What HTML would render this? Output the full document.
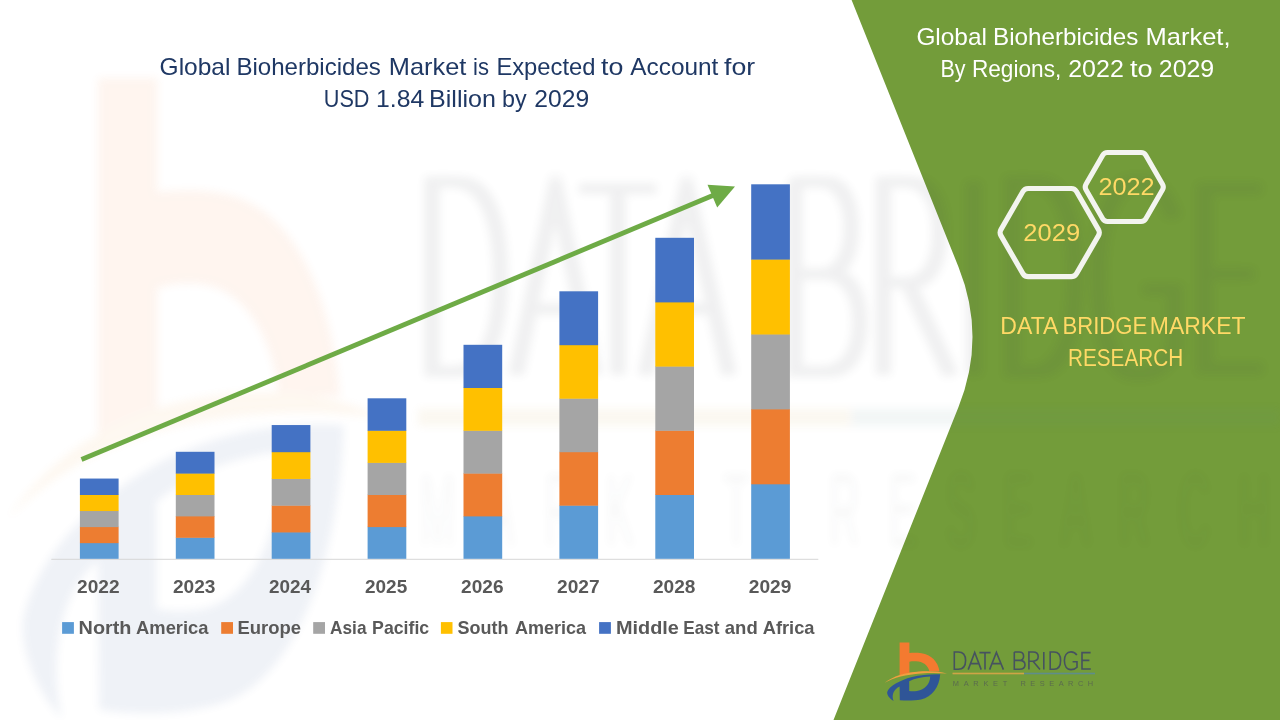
<!DOCTYPE html>
<html>
<head>
<meta charset="utf-8">
<title>Global Bioherbicides Market</title>
<style>
html,body{margin:0;padding:0;background:#ffffff;}
body{width:1280px;height:720px;overflow:hidden;position:relative;font-family:"Liberation Sans",sans-serif;}
svg{will-change:transform;position:absolute;left:0;top:0;display:block;}
text{font-family:"Liberation Sans",sans-serif;}
</style>
</head>
<body>
<svg width="1280" height="720" viewBox="0 0 1280 720">
<defs>
  <!-- logo drawn in native pixel coordinates of the small logo (bottom right) -->
  <g id="logo-mark">
    <!-- orange b -->
    <path fill="#F47A30" d="M899.6,642.5 H909.4 V652.9 C913,652.7 917.5,652.6 921.5,653.2 C931,654.6 938,661.2 939.6,671.6 C932,671.4 926,671.6 920,672.2 C912,673 905,674 899.6,675.3 Z M909.4,661.7 V672.8 C915,671.9 922,671.3 929.4,671.2 C928,665.3 923,661.6 916,661.3 C913.5,661.2 911,661.4 909.4,661.7 Z"/>
    <!-- thin orange swoosh -->
    <path fill="#F0A040" d="M884.6,682.8 C893,676 905,672.5 920,671.4 C930,670.8 940,671.6 947,673.6 C938,672.9 930,672.9 921,673.5 C906,674.6 894,677.4 884.6,682.8 Z"/>
    <!-- blue D swoosh -->
    <path fill="#2F5597" fill-rule="evenodd" d="M940.2,674.2 C930,673.9 921,674.8 912,677 C899.5,680.4 889.4,686 887.2,692 C886.8,695 889.5,698.5 893.6,701 C892,697 892.5,692.6 895.5,689.4 C896.6,688.2 898,687.3 899.6,686.6 L899.8,700.2 C907,700.8 915,700.6 921,699.4 C932,697 939.4,687 940.2,674.2 Z M909.2,681.2 C915,678.6 922,677 930.2,676.6 C930,684 925,690 917,691 C914,691.3 911,691.2 909.2,691 Z"/>
  </g>
  <g id="logo-letters" fill="none" stroke-linecap="butt" stroke-linejoin="miter">
      <path d="M954.3,652 V669.3 H958.2 C963.6,669.3 965.6,665.4 965.6,660.6 C965.6,655.8 963.6,652 958.2,652 Z"/>
      <path d="M968.2,669.6 L974.7,652.4 L981.2,669.6 M970.6,663.6 H978.8"/>
      <path d="M979.4,652.6 H990.6 M985,652.6 V669.6"/>
      <path d="M989.6,669.6 L996.4,652.4 L1003.4,669.6 M992,663.6 H1000.8"/>
      <path d="M1014.3,652 V669.3 H1019.4 C1023.4,669.3 1025,667.2 1025,664.8 C1025,662.2 1023.2,660.4 1019.4,660.4 H1014.3 M1019,660.4 C1022,660.4 1023.6,658.6 1023.6,656.2 C1023.6,653.8 1022,652 1019,652 H1014.3"/>
      <path d="M1028.9,669.6 V652 H1033 C1036.6,652 1038.2,654 1038.2,656.6 C1038.2,659.2 1036.6,661.2 1033,661.2 H1028.9 M1033,661.2 L1040,669.6"/>
      <path d="M1043.8,652 V669.6"/>
      <path d="M1050.2,652 V669.3 H1054 C1058.8,669.3 1060.6,665.4 1060.6,660.6 C1060.6,655.8 1058.8,652 1054,652 Z"/>
      <path d="M1076.8,655.2 C1075.6,653.2 1073.6,651.9 1071,651.9 C1066.6,651.9 1064.4,655.8 1064.4,660.6 C1064.4,665.6 1066.6,669.6 1071,669.6 C1073.4,669.6 1075.6,668.8 1077,667.2 V661.8 H1072.6"/>
      <path d="M1090.6,652.6 H1082 V669 H1090.8 M1082,660.4 H1089.4"/>
    </g>
  <g id="logo-text">
    <!-- underline -->
    <rect x="952.5" y="672.7" width="71.5" height="1.6" fill="#CFA446"/>
    <rect x="1024" y="672.7" width="71" height="1.6" fill="#5F8D8B"/>
  </g>
  <!-- MARKET RESEARCH tiny spaced caps -->
  <g id="logo-tiny">
    <text x="952.8" y="686" textLength="54.4" lengthAdjust="spacing">MARKET</text>
    <text x="1020.4" y="686" textLength="72.8" lengthAdjust="spacing">RESEARCH</text>
  </g>
</defs>

<!-- green panel -->
<path id="panel" fill="#739C3A" d="M851.6,0 L958.5,267 Q986.5,337 958.5,407 L833.5,720 H1280 V0 Z"/>

<!-- watermark (stretched logo, faint + blurred) -->
<filter id="wmblur" x="-5%" y="-5%" width="110%" height="110%"><feGaussianBlur stdDeviation="4.5 4"/></filter>
<g id="wm" opacity="0.075" filter="url(#wmblur)">
  <g transform="translate(97.5,78) scale(6.05,10.95) translate(-899.5,-642.5)">
    <use href="#logo-mark"/><use href="#logo-text"/>
    <g stroke="#3C4148" stroke-width="0.95">
      <use href="#logo-letters" x="-0.3"/><use href="#logo-letters" x="0.5"/><use href="#logo-letters" x="1.3"/>
    </g>
    <g font-size="7" fill="#3C4148" opacity="0.5" transform="translate(0,685.2) scale(1,1.36) translate(0,-686)"><use href="#logo-tiny"/></g>
  </g>
</g>

<!-- axis -->
<rect x="51.3" y="558.8" width="767" height="1" fill="#D6D6D6"/>
<!-- bars -->
<g>
  <rect x="79.90" y="542.75" width="38.7" height="16.05" fill="#5B9BD5"/>
  <rect x="79.90" y="526.70" width="38.7" height="16.45" fill="#ED7D31"/>
  <rect x="79.90" y="510.65" width="38.7" height="16.45" fill="#A5A5A5"/>
  <rect x="79.90" y="494.60" width="38.7" height="16.45" fill="#FFC000"/>
  <rect x="79.90" y="478.55" width="38.7" height="16.45" fill="#4472C4"/>
  <rect x="175.80" y="537.40" width="38.7" height="21.40" fill="#5B9BD5"/>
  <rect x="175.80" y="516.00" width="38.7" height="21.80" fill="#ED7D31"/>
  <rect x="175.80" y="494.60" width="38.7" height="21.80" fill="#A5A5A5"/>
  <rect x="175.80" y="473.20" width="38.7" height="21.80" fill="#FFC000"/>
  <rect x="175.80" y="451.80" width="38.7" height="21.80" fill="#4472C4"/>
  <rect x="271.70" y="532.05" width="38.7" height="26.75" fill="#5B9BD5"/>
  <rect x="271.70" y="505.30" width="38.7" height="27.15" fill="#ED7D31"/>
  <rect x="271.70" y="478.55" width="38.7" height="27.15" fill="#A5A5A5"/>
  <rect x="271.70" y="451.80" width="38.7" height="27.15" fill="#FFC000"/>
  <rect x="271.70" y="425.05" width="38.7" height="27.15" fill="#4472C4"/>
  <rect x="367.60" y="526.70" width="38.7" height="32.10" fill="#5B9BD5"/>
  <rect x="367.60" y="494.60" width="38.7" height="32.50" fill="#ED7D31"/>
  <rect x="367.60" y="462.50" width="38.7" height="32.50" fill="#A5A5A5"/>
  <rect x="367.60" y="430.40" width="38.7" height="32.50" fill="#FFC000"/>
  <rect x="367.60" y="398.30" width="38.7" height="32.50" fill="#4472C4"/>
  <rect x="463.50" y="516.00" width="38.7" height="42.80" fill="#5B9BD5"/>
  <rect x="463.50" y="473.20" width="38.7" height="43.20" fill="#ED7D31"/>
  <rect x="463.50" y="430.40" width="38.7" height="43.20" fill="#A5A5A5"/>
  <rect x="463.50" y="387.60" width="38.7" height="43.20" fill="#FFC000"/>
  <rect x="463.50" y="344.80" width="38.7" height="43.20" fill="#4472C4"/>
  <rect x="559.40" y="505.30" width="38.7" height="53.50" fill="#5B9BD5"/>
  <rect x="559.40" y="451.80" width="38.7" height="53.90" fill="#ED7D31"/>
  <rect x="559.40" y="398.30" width="38.7" height="53.90" fill="#A5A5A5"/>
  <rect x="559.40" y="344.80" width="38.7" height="53.90" fill="#FFC000"/>
  <rect x="559.40" y="291.30" width="38.7" height="53.90" fill="#4472C4"/>
  <rect x="655.30" y="494.60" width="38.7" height="64.20" fill="#5B9BD5"/>
  <rect x="655.30" y="430.40" width="38.7" height="64.60" fill="#ED7D31"/>
  <rect x="655.30" y="366.20" width="38.7" height="64.60" fill="#A5A5A5"/>
  <rect x="655.30" y="302.00" width="38.7" height="64.60" fill="#FFC000"/>
  <rect x="655.30" y="237.80" width="38.7" height="64.60" fill="#4472C4"/>
  <rect x="751.20" y="483.90" width="38.7" height="74.90" fill="#5B9BD5"/>
  <rect x="751.20" y="409.00" width="38.7" height="75.30" fill="#ED7D31"/>
  <rect x="751.20" y="334.10" width="38.7" height="75.30" fill="#A5A5A5"/>
  <rect x="751.20" y="259.20" width="38.7" height="75.30" fill="#FFC000"/>
  <rect x="751.20" y="184.30" width="38.7" height="75.30" fill="#4472C4"/>
</g>
<!-- trend arrow -->
<g>
  <line x1="81.5" y1="459.6" x2="714" y2="195.1" stroke="#6EAB46" stroke-width="4.9"/>
  <polygon points="735,186.6 707.5,184.7 717.2,207.4" fill="#6EAB46"/>
</g>

<!-- legend -->
<g>
  <rect x="62.1" y="622.1" width="11.8" height="11.7" fill="#5B9BD5"/>
  <rect x="221.2" y="622.1" width="11.8" height="11.7" fill="#ED7D31"/>
  <rect x="313.2" y="622.1" width="11.8" height="11.7" fill="#A5A5A5"/>
  <rect x="440.9" y="622.1" width="11.6" height="11.7" fill="#FFC000"/>
  <rect x="599.1" y="622.1" width="11.8" height="11.7" fill="#4472C4"/>
</g>

<!-- hexagons -->
<g fill="none" stroke="#F3F4EF" stroke-width="5.1">
  <path d="M1000.93,235.60 A6,6 0 0 1 1000.93,229.60 L1022.90,191.55 A6,6 0 0 1 1028.10,188.55 L1071.30,188.55 A6,6 0 0 1 1076.50,191.55 L1098.47,229.60 A6,6 0 0 1 1098.47,235.60 L1076.50,273.65 A6,6 0 0 1 1071.30,276.65 L1028.10,276.65 A6,6 0 0 1 1022.90,273.65 Z"/>
  <path d="M1085.99,189.75 A5.5,5.5 0 0 1 1085.99,184.25 L1102.70,155.30 A5.5,5.5 0 0 1 1107.47,152.55 L1141.03,152.55 A5.5,5.5 0 0 1 1145.80,155.30 L1162.51,184.25 A5.5,5.5 0 0 1 1162.51,189.75 L1145.80,218.70 A5.5,5.5 0 0 1 1141.03,221.45 L1107.47,221.45 A5.5,5.5 0 0 1 1102.70,218.70 Z"/>
</g>
<g opacity="0.999">
<!-- text (placed per word) -->
<g font-size="24" fill="#1F3864">
  <text x="159.6" y="74.7" textLength="70.8" lengthAdjust="spacingAndGlyphs">Global</text>
  <text x="236.4" y="74.7" textLength="144.5" lengthAdjust="spacingAndGlyphs">Bioherbicides</text>
  <text x="388.8" y="74.7" textLength="77.5" lengthAdjust="spacingAndGlyphs">Market</text>
  <text x="473.0" y="74.7" textLength="15.9" lengthAdjust="spacingAndGlyphs">is</text>
  <text x="496.4" y="74.7" textLength="99.1" lengthAdjust="spacingAndGlyphs">Expected</text>
  <text x="601.1" y="74.7" textLength="22.3" lengthAdjust="spacingAndGlyphs">to</text>
  <text x="630.3" y="74.7" textLength="88.1" lengthAdjust="spacingAndGlyphs">Account</text>
  <text x="724.1" y="74.7" textLength="31.1" lengthAdjust="spacingAndGlyphs">for</text>
  <text x="323.8" y="106.7" textLength="45.7" lengthAdjust="spacingAndGlyphs">USD</text>
  <text x="376.1" y="106.7" textLength="48.2" lengthAdjust="spacingAndGlyphs">1.84</text>
  <text x="429.1" y="106.7" textLength="66.8" lengthAdjust="spacingAndGlyphs">Billion</text>
  <text x="502.1" y="106.7" textLength="24.6" lengthAdjust="spacingAndGlyphs">by</text>
  <text x="534.3" y="106.7" textLength="54.8" lengthAdjust="spacingAndGlyphs">2029</text>
</g>
<g font-size="24" fill="#FFFFFF">
  <text x="916.4" y="44.5" textLength="70.5" lengthAdjust="spacingAndGlyphs">Global</text>
  <text x="993.0" y="44.5" textLength="145.3" lengthAdjust="spacingAndGlyphs">Bioherbicides</text>
  <text x="1145.5" y="44.5" textLength="85.0" lengthAdjust="spacingAndGlyphs">Market,</text>
  <text x="940.4" y="76.9" textLength="25.0" lengthAdjust="spacingAndGlyphs">By</text>
  <text x="971.9" y="76.9" textLength="89.4" lengthAdjust="spacingAndGlyphs">Regions,</text>
  <text x="1068.2" y="76.9" textLength="55.6" lengthAdjust="spacingAndGlyphs">2022</text>
  <text x="1130.1" y="76.9" textLength="22.6" lengthAdjust="spacingAndGlyphs">to</text>
  <text x="1158.8" y="76.9" textLength="55.4" lengthAdjust="spacingAndGlyphs">2029</text>
</g>
<g font-size="24.2" fill="#FFD966">
  <text x="1023.3" y="241.0" textLength="56.8" lengthAdjust="spacingAndGlyphs">2029</text>
  <text x="1098.4" y="194.9" textLength="56.3" lengthAdjust="spacingAndGlyphs">2022</text>
</g>
<g font-size="24.4" fill="#FFD966">
  <text x="1000.3" y="334.0" textLength="58.1" lengthAdjust="spacingAndGlyphs">DATA</text>
  <text x="1062.5" y="334.0" textLength="84.8" lengthAdjust="spacingAndGlyphs">BRIDGE</text>
  <text x="1149.8" y="334.0" textLength="95.7" lengthAdjust="spacingAndGlyphs">MARKET</text>
  <text x="1067.9" y="365.7" textLength="115.3" lengthAdjust="spacingAndGlyphs">RESEARCH</text>
</g>
<g font-size="18.9" font-weight="bold" fill="#595959">
  <text x="77.1" y="593.3" textLength="42.5" lengthAdjust="spacingAndGlyphs">2022</text>
  <text x="173.0" y="593.3" textLength="42.5" lengthAdjust="spacingAndGlyphs">2023</text>
  <text x="268.9" y="593.3" textLength="42.0" lengthAdjust="spacingAndGlyphs">2024</text>
  <text x="365.0" y="593.3" textLength="42.2" lengthAdjust="spacingAndGlyphs">2025</text>
  <text x="461.1" y="593.3" textLength="42.4" lengthAdjust="spacingAndGlyphs">2026</text>
  <text x="557.0" y="593.3" textLength="42.6" lengthAdjust="spacingAndGlyphs">2027</text>
  <text x="652.9" y="593.3" textLength="42.5" lengthAdjust="spacingAndGlyphs">2028</text>
  <text x="748.8" y="593.3" textLength="42.6" lengthAdjust="spacingAndGlyphs">2029</text>
</g>
<g font-size="18.6" font-weight="bold" fill="#595959">
  <text x="78.6" y="633.8" textLength="52.9" lengthAdjust="spacingAndGlyphs">North</text>
  <text x="136.1" y="633.8" textLength="72.4" lengthAdjust="spacingAndGlyphs">America</text>
  <text x="237.5" y="633.8" textLength="63.6" lengthAdjust="spacingAndGlyphs">Europe</text>
  <text x="330.1" y="633.8" textLength="36.4" lengthAdjust="spacingAndGlyphs">Asia</text>
  <text x="372.1" y="633.8" textLength="57.1" lengthAdjust="spacingAndGlyphs">Pacific</text>
  <text x="457.6" y="633.8" textLength="51.0" lengthAdjust="spacingAndGlyphs">South</text>
  <text x="514.9" y="633.8" textLength="71.2" lengthAdjust="spacingAndGlyphs">America</text>
  <text x="615.9" y="633.8" textLength="63.0" lengthAdjust="spacingAndGlyphs">Middle</text>
  <text x="683.3" y="633.8" textLength="36.2" lengthAdjust="spacingAndGlyphs">East</text>
  <text x="724.8" y="633.8" textLength="32.9" lengthAdjust="spacingAndGlyphs">and</text>
  <text x="762.7" y="633.8" textLength="51.8" lengthAdjust="spacingAndGlyphs">Africa</text>
</g>

</g>

<!-- small logo -->
<g><use href="#logo-mark"/><use href="#logo-text"/><g stroke="#46525F" stroke-width="1.6"><use href="#logo-letters"/></g><g font-size="7.4" fill="#5B6B4E"><use href="#logo-tiny"/></g></g>

</svg>
</body>
</html>
